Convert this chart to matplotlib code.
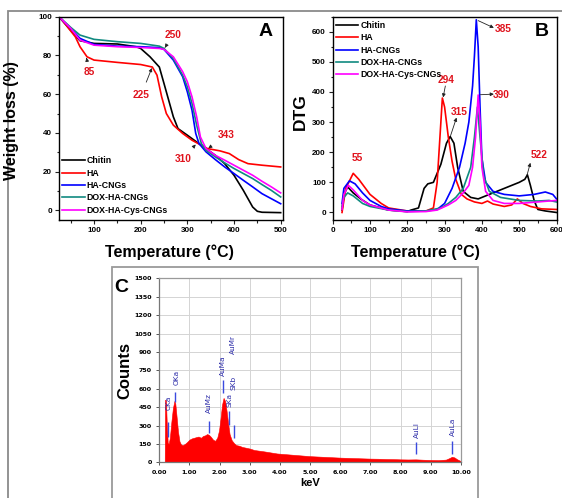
import matplotlib
matplotlib.use("Agg")
import matplotlib.pyplot as plt
from matplotlib.patches import Rectangle
from matplotlib.ticker import MultipleLocator, FixedLocator

plt.rcParams['font.family'] = ['Liberation Sans', 'DejaVu Sans']

# ---------------- Panel A: TGA data ----------------
tga_names = ["Chitin", "HA", "HA-CNGs", "DOX-HA-CNGs", "DOX-HA-Cys-CNGs"]
tga_colors = ["#000000", "#ff0000", "#0000ff", "#108a80", "#ff00ff"]

chitin_T = [25, 50, 70, 100, 150, 190, 200, 220, 240, 250, 260, 270, 280, 300, 320, 340, 360, 380, 400, 420, 440, 450, 460, 500]
chitin_W = [100, 93, 87.6, 86.2, 85.9, 84.5, 83.6, 79.3, 74, 65.5, 56.9, 48.3, 42.2, 38.8, 35.3, 31.9, 28.4, 24.1, 18.1, 10.3, 1.7, -0.5, -1, -1.2]

ha_T = [25, 40, 60, 70, 85, 100, 150, 200, 225, 235, 245, 255, 270, 290, 310, 330, 343, 370, 390, 410, 430, 460, 500]
ha_W = [100, 95.7, 89.6, 84.5, 79.3, 77.6, 76.4, 75.3, 74, 69.8, 58.6, 50, 44, 39.7, 36.2, 33.6, 31.9, 30.7, 29.3, 26.2, 24.1, 23.3, 22.4]

hacng_T = [25, 50, 70, 100, 150, 200, 240, 250, 270, 290, 300, 310, 318, 325, 340, 360, 380, 400, 420, 440, 460, 480, 500]
hacng_W = [100, 94, 88.8, 85.7, 84.8, 84.5, 84, 83.1, 77.6, 69, 61.2, 51.7, 39.7, 34.5, 30.2, 26.2, 22.4, 19, 15.5, 12.1, 8.6, 6, 3.4]

dox_T = [25, 50, 70, 100, 150, 200, 240, 250, 270, 290, 300, 310, 320, 330, 340, 360, 380, 400, 420, 440, 460, 480, 500]
dox_W = [100, 94.5, 90.5, 88.3, 87.1, 86.2, 84.8, 83.6, 78.4, 69.8, 63.8, 55.2, 44, 34.5, 31, 27.6, 24.5, 21.6, 19, 16.4, 13.3, 10.3, 6.9]

cys_T = [25, 50, 70, 100, 150, 200, 240, 250, 270, 290, 300, 310, 320, 328, 340, 360, 380, 400, 420, 440, 460, 480, 500]
cys_W = [100, 94, 87.9, 85.3, 84.5, 84.1, 83.6, 83.1, 79.3, 71.6, 66.4, 58.6, 48.3, 37.9, 31.9, 28.4, 25.9, 23.3, 20.7, 18.1, 15, 12.1, 9]

tga_T = [chitin_T, ha_T, hacng_T, dox_T, cys_T]
tga_W = [chitin_W, ha_W, hacng_W, dox_W, cys_W]

# annotations A: label, text position, arrow target
a_labels = ["85", "225", "250", "310", "343"]
a_text_xy = [(89, 71.5), (201, 59.5), (269, 90.5), (291, 26.7), (383, 38.8)]
a_arrow_xy = [(84, 78.8), (224, 73.5), (252, 84.0), (318, 34.0), (345, 32.0)]

# ---------------- Panel B: DTG data ----------------
dchitin_T = [25, 30, 40, 55, 75, 100, 150, 200, 210, 230, 245, 255, 270, 290, 305, 315, 325, 335, 350, 370, 390, 410, 440, 470, 500, 515, 522, 530, 540, 550, 570, 600]
dchitin_D = [8, 60, 85, 65, 45, 25, 8, 3, 8, 15, 80, 95, 100, 160, 230, 252, 230, 150, 70, 50, 45, 55, 70, 85, 100, 110, 125, 90, 40, 10, 5, 0]

dha_T = [25, 35, 55, 70, 100, 130, 150, 200, 250, 270, 280, 290, 294, 300, 310, 320, 330, 345, 360, 380, 400, 415, 430, 460, 480, 495, 510, 530, 560, 600]
dha_D = [0, 80, 130, 110, 60, 30, 15, 5, 5, 15, 100, 300, 380, 350, 250, 170, 110, 60, 45, 35, 30, 38, 28, 20, 25, 45, 30, 20, 12, 10]

dhacng_T = [25, 30, 45, 60, 80, 100, 130, 150, 200, 250, 280, 300, 320, 340, 355, 365, 375, 380, 385, 390, 395, 400, 410, 430, 460, 500, 540, 570, 590, 600]
dhacng_D = [30, 80, 105, 95, 65, 40, 20, 12, 5, 5, 10, 30, 80, 150, 230, 300, 420, 520, 640, 550, 350, 180, 100, 70, 60, 55, 60, 68, 60, 45]

ddox_T = [25, 30, 40, 55, 80, 100, 150, 200, 250, 290, 310, 330, 350, 370, 380, 388, 395, 405, 420, 450, 500, 550, 580, 600]
ddox_D = [20, 50, 65, 55, 30, 20, 8, 3, 5, 15, 30, 50, 80, 150, 250, 350, 250, 120, 70, 50, 40, 38, 40, 35]

dcys_T = [25, 30, 42, 55, 80, 100, 150, 200, 250, 280, 310, 330, 350, 365, 375, 383, 390, 395, 400, 410, 430, 460, 500, 550, 580, 600]
dcys_D = [10, 60, 90, 75, 40, 25, 8, 2, 3, 8, 25, 40, 65, 90, 150, 250, 390, 300, 150, 70, 40, 30, 30, 35, 38, 40]

dtg_T = [dchitin_T, dha_T, dhacng_T, ddox_T, dcys_T]
dtg_D = [dchitin_D, dha_D, dhacng_D, ddox_D, dcys_D]

b_labels = ["55", "294", "315", "385", "390", "522"]
b_text_xy = [(66, 182), (304, 440), (338, 332), (458, 610), (452, 391), (554, 190)]
b_arrow_from = [None, (302, 420), (316, 255), (390, 637), (396, 391), (521, 124)]
b_arrow_to = [None, (296, 382), (332, 315), (432, 613), (432, 393), (530, 165)]

# ---------------- Panel C: EDS spectrum ----------------
kev = [0.00, 0.18, 0.19, 0.22, 0.25, 0.28, 0.31, 0.35, 0.40, 0.45, 0.50, 0.53, 0.57, 0.62, 0.67, 0.72, 0.78,
       0.85, 0.92, 1.00, 1.08, 1.15, 1.22, 1.30, 1.38, 1.45, 1.52, 1.58, 1.64, 1.70, 1.78, 1.85, 1.92, 1.98,
       2.03, 2.08, 2.13, 2.18, 2.23, 2.28, 2.33, 2.40, 2.48, 2.55, 2.65, 2.75, 2.85, 3.00, 3.15, 3.30, 3.50,
       3.70, 3.90, 4.10, 4.30, 4.50, 4.75, 5.00, 5.25, 5.50, 5.75, 6.00, 6.25, 6.50, 6.75, 7.00, 7.25, 7.50,
       7.75, 8.00, 8.25, 8.50, 8.75, 9.00, 9.25, 9.50, 9.62, 9.70, 9.78, 9.87, 9.95, 10.00]
counts = [0, 0, 510, 505, 300, 160, 150, 200, 330, 440, 500, 480, 380, 250, 170, 145, 140,
          150, 165, 185, 195, 200, 205, 210, 200, 215, 220, 230, 225, 210, 185, 175, 200, 260,
          360, 470, 525, 500, 420, 320, 230, 180, 155, 140, 135, 125, 120, 112, 100, 95, 88,
          80, 72, 68, 64, 60, 55, 50, 47, 44, 41, 38, 36, 34, 32, 30, 29, 27,
          26, 24, 23, 24, 21, 19, 18, 22, 35, 45, 40, 25, 15, 10]

eds_names = ["CKa", "OKa", "AuMz", "AuMa", "SKa", "SKb", "AuMr", "AuLl", "AuLa"]
eds_line_x = [0.28, 0.52, 1.65, 2.12, 2.31, 2.46, None, 8.50, 9.71]
eds_line_lo = [209, 495, 236, 563, 304, 196, None, 65, 68]
eds_line_hi = [332, 575, 340, 670, 418, 304, None, 168, 177]
eds_text_x = [0.30, 0.56, 1.64, 2.10, 2.33, 2.47, 2.44, 8.54, 9.73]
eds_text_y = [488, 690, 482, 790, 510, 650, 962, 265, 290]

# ---------------- Figure ----------------
W, H = 562, 498
fig = plt.figure(figsize=(W / 100, H / 100), dpi=100)

def fx(px):
    return px / W

def fy(py):
    return 1 - py / H

# outer frame and panel C box
fig.patches.append(Rectangle((fx(8), -0.05), 1.0, fy(11) + 0.05, transform=fig.transFigure,
                             fill=False, edgecolor="#8a8a8a", lw=1.3))
fig.patches.append(Rectangle((fx(111.5), -0.05), fx(478.3 - 111.5), fy(267.5) + 0.05,
                             transform=fig.transFigure, fill=False, edgecolor="#9a9a9a", lw=1.3))

tick_kw = dict(direction="out", width=0.8, color="#222222")

# ----- Panel A -----
axA = fig.add_axes([fx(59), fy(220), fx(283 - 59), fy(16.7) - fy(220)])
for T, Wt, c, n in zip(tga_T, tga_W, tga_colors, tga_names):
    axA.plot(T, Wt, color=c, lw=1.2, label=n)
axA.set_xlim(25, 505)
axA.set_ylim(-5, 100)
axA.xaxis.set_major_locator(FixedLocator([100, 200, 300, 400, 500]))
axA.xaxis.set_minor_locator(MultipleLocator(50))
axA.yaxis.set_major_locator(MultipleLocator(20))
axA.yaxis.set_minor_locator(MultipleLocator(10))
axA.tick_params(which="major", length=3, labelsize=5.8, pad=2, **tick_kw)
axA.tick_params(which="minor", length=1.8, **tick_kw)
for lab in axA.get_xticklabels() + axA.get_yticklabels():
    lab.set_fontweight("bold")
for s in axA.spines.values():
    s.set_linewidth(1.0)
axA.legend(loc="lower left", bbox_to_anchor=(-0.01, 0.0), frameon=False,
           prop=dict(size=6.3, weight="bold"), handlelength=2.6, handletextpad=0.2,
           labelspacing=0.38, borderaxespad=0.2)
for txt, (tx, ty), (ax_, ay_) in zip(a_labels, a_text_xy, a_arrow_xy):
    axA.annotate(txt, xy=(ax_, ay_), xytext=(tx, ty), ha="center", va="center",
                 color="#e0141e", fontsize=7.3, fontweight="bold",
                 arrowprops=dict(arrowstyle="-|>", color="#222222", lw=0.6,
                                 mutation_scale=5, shrinkA=4, shrinkB=0))
axA.text(0.955, 0.925, "A", transform=axA.transAxes, ha="right", va="center",
         fontsize=14, fontweight="bold")

# ----- Panel B -----
axB = fig.add_axes([fx(332.7), fy(220), fx(556.5 - 332.7), fy(16.7) - fy(220)])
for T, D, c, n in zip(dtg_T, dtg_D, tga_colors, tga_names):
    axB.plot(T, D, color=c, lw=1.2, label=n)
axB.set_xlim(0, 600)
axB.set_ylim(-25, 650)
axB.xaxis.set_major_locator(MultipleLocator(100))
axB.xaxis.set_minor_locator(MultipleLocator(50))
axB.yaxis.set_major_locator(MultipleLocator(100))
axB.yaxis.set_minor_locator(MultipleLocator(50))
axB.tick_params(which="major", length=3, labelsize=5.8, pad=2, **tick_kw)
axB.tick_params(which="minor", length=1.8, **tick_kw)
for lab in axB.get_xticklabels() + axB.get_yticklabels():
    lab.set_fontweight("bold")
for s in axB.spines.values():
    s.set_linewidth(1.0)
axB.legend(loc="upper left", bbox_to_anchor=(-0.01, 1.005), frameon=False,
           prop=dict(size=6.3, weight="bold"), handlelength=2.6, handletextpad=0.2,
           labelspacing=0.38, borderaxespad=0.2)
for txt, (tx, ty), fr, to in zip(b_labels, b_text_xy, b_arrow_from, b_arrow_to):
    axB.text(tx, ty, txt, ha="center", va="center", color="#e0141e",
             fontsize=7.3, fontweight="bold")
    if fr is not None:
        axB.annotate("", xy=to, xytext=fr,
                     arrowprops=dict(arrowstyle="-|>", color="#222222", lw=0.6,
                                     mutation_scale=5, shrinkA=0, shrinkB=0))
axB.text(0.965, 0.925, "B", transform=axB.transAxes, ha="right", va="center",
         fontsize=14, fontweight="bold")

# axis titles for A and B
fig.text(fx(12), fy(121), "Weight loss (%)", rotation=90, ha="center", va="center",
         fontsize=11.5, fontweight="bold")
fig.text(fx(169), fy(252), "Temperature (°C)", ha="center", va="center",
         fontsize=11.5, fontweight="bold")
fig.text(fx(300), fy(112), "DTG", rotation=90, ha="center", va="center",
         fontsize=12.5, fontweight="bold")
fig.text(fx(415), fy(252), "Temperature (°C)", ha="center", va="center",
         fontsize=11.5, fontweight="bold")

# ----- Panel C -----
axC = fig.add_axes([fx(159.3), fy(462.3), fx(461 - 159.3), fy(278.3) - fy(462.3)])
axC.fill_between(kev, 0, counts, color="#ff0000", lw=0.4, edgecolor="#ff0000")
axC.set_xlim(0, 10)
axC.set_ylim(0, 1500)
axC.xaxis.set_major_locator(MultipleLocator(1))
axC.yaxis.set_major_locator(MultipleLocator(150))
axC.set_xticklabels([f"{v:.2f}" for v in axC.get_xticks()])
axC.grid(True, color="#d4d4d4", lw=0.7)
axC.set_axisbelow(True)
axC.tick_params(length=2.5, labelsize=4.6, pad=3, width=0.7, color="#555555")
for lab in axC.get_xticklabels() + axC.get_yticklabels():
    lab.set_fontfamily("DejaVu Sans")
    lab.set_fontweight("bold")
for side in ["top", "right"]:
    axC.spines[side].set_color("#9a9a9a")
    axC.spines[side].set_linewidth(0.9)
for side in ["left", "bottom"]:
    axC.spines[side].set_color("#777777")
    axC.spines[side].set_linewidth(0.9)
for nm, lx, lo, hi, tx, ty in zip(eds_names, eds_line_x, eds_line_lo, eds_line_hi, eds_text_x, eds_text_y):
    if lx is not None:
        axC.vlines(lx, lo, hi, color="#3a4adf", lw=1.0)
    axC.text(tx, ty, nm, rotation=90, ha="center", va="center", color="#2a2aa8",
             fontsize=5.3, family="DejaVu Sans")
axC.set_xlabel("keV", fontsize=8, fontweight="bold", labelpad=2)
fig.text(fx(125), fy(370), "Counts", rotation=90, ha="center", va="center",
         fontsize=12, fontweight="bold")
fig.text(fx(121), fy(287), "C", ha="center", va="center", fontsize=14, fontweight="bold")

fig.savefig("out.png", dpi=100, facecolor="white")
